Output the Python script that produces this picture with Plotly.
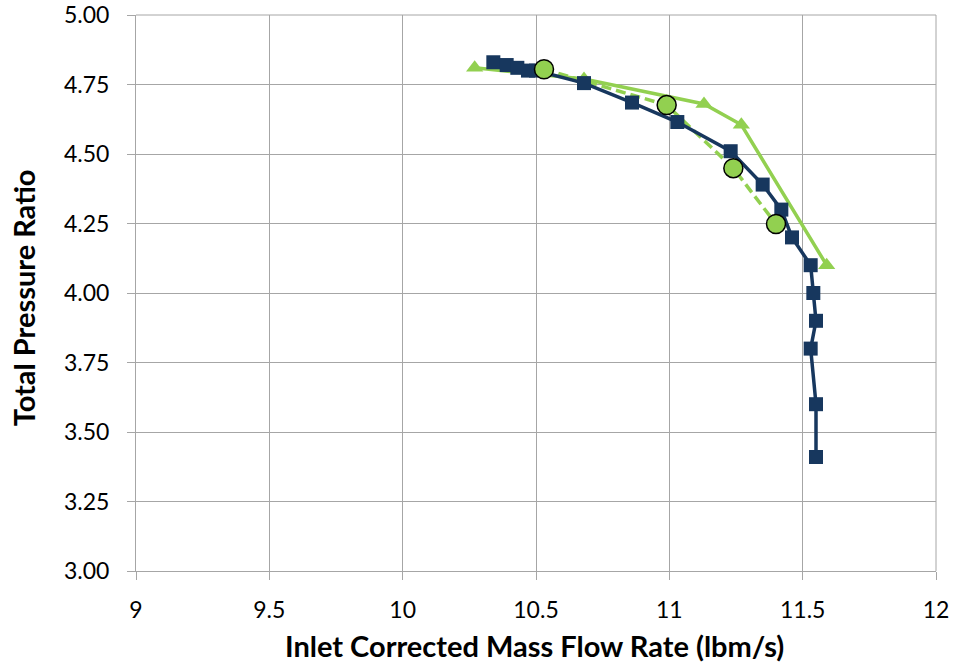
import plotly.graph_objects as go

# Dark blue series (squares, solid line)
blue_x = [10.34, 10.39, 10.43, 10.47, 10.50, 10.68, 10.86, 11.03, 11.23, 11.35, 11.42, 11.46, 11.53, 11.54, 11.55, 11.53, 11.55, 11.55]
blue_y = [4.83, 4.82, 4.81, 4.80, 4.80, 4.755, 4.685, 4.615, 4.51, 4.39, 4.30, 4.20, 4.10, 4.00, 3.90, 3.80, 3.60, 3.41]

# Green series (triangles, solid line)
tri_x = [10.27, 10.68, 11.13, 11.27, 11.59]
tri_y = [4.81, 4.77, 4.68, 4.605, 4.10]

# Green series (circles, dashed line)
circ_x = [10.53, 10.99, 11.24, 11.40]
circ_y = [4.805, 4.676, 4.449, 4.248]

x_ticks = [9, 9.5, 10, 10.5, 11, 11.5, 12]
x_tick_text = ["9", "9.5", "10", "10.5", "11", "11.5", "12"]
y_ticks = [3.00, 3.25, 3.50, 3.75, 4.00, 4.25, 4.50, 4.75, 5.00]
y_tick_text = ["3.00", "3.25", "3.50", "3.75", "4.00", "4.25", "4.50", "4.75", "5.00"]

x_title = "Inlet Corrected Mass Flow Rate (lbm/s)"
y_title = "Total Pressure Ratio"

BLUE = "#17375E"
GREEN = "#92D050"
GRID = "#A6A6A6"

fig = go.Figure()
fig.add_trace(go.Scatter(x=tri_x, y=tri_y, mode="lines+markers",
                         line=dict(color=GREEN, width=3.5),
                         marker=dict(symbol="triangle-up", size=15, color=GREEN)))
fig.add_trace(go.Scatter(x=circ_x, y=circ_y, mode="lines",
                         line=dict(color=GREEN, width=3.5, dash="10px,5px")))
fig.add_trace(go.Scatter(x=blue_x, y=blue_y, mode="lines+markers",
                         line=dict(color=BLUE, width=3.5),
                         marker=dict(symbol="square", size=14, color=BLUE)))
fig.add_trace(go.Scatter(x=circ_x, y=circ_y, mode="markers",
                         marker=dict(symbol="circle", size=19, color=GREEN,
                                     line=dict(color="black", width=1.5))))

fig.update_layout(
    width=953, height=663,
    margin=dict(l=136, r=17, t=15, b=92, autoexpand=False),
    paper_bgcolor="white", plot_bgcolor="white",
    showlegend=False,
    font=dict(family="Lato, Liberation Sans, sans-serif", color="black"),
)
common = dict(showgrid=True, gridcolor=GRID, gridwidth=1,
              showline=True, linecolor=GRID, linewidth=1,
              ticks="outside", ticklen=8, tickcolor=GRID,
              tickfont=dict(size=23, family="Lato", color="black"),
              ticklabeloverflow="allow",
              zeroline=False, automargin=False)
fig.update_xaxes(range=[9, 12], tickvals=x_ticks, ticktext=x_tick_text,
                 ticklabelstandoff=10, **common)
fig.update_yaxes(range=[3, 5], tickvals=y_ticks, ticktext=y_tick_text,
                 ticklabelstandoff=13, **common)
fig.add_shape(type="line", xref="paper", yref="paper", x0=1, x1=1, y0=0, y1=1,
              line=dict(color=GRID, width=1))
fig.add_shape(type="line", xref="paper", yref="paper", x0=0, x1=1, y0=1, y1=1,
              line=dict(color=GRID, width=1))
fig.add_annotation(text="<b>" + x_title + "</b>", xref="paper", yref="paper",
                   x=0.4987, y=-0.1331, xanchor="center", yanchor="middle",
                   showarrow=False, font=dict(size=29, family="Lato", color="black"))
fig.add_annotation(text="<b>" + y_title + "</b>", xref="paper", yref="paper",
                   x=-0.141, y=0.491, xanchor="center", yanchor="middle", textangle=-90,
                   showarrow=False, font=dict(size=29, family="Lato", color="black"))

fig.write_html("out.html", config={"displayModeBar": False},
               post_script="document.body.style.margin='0';")
